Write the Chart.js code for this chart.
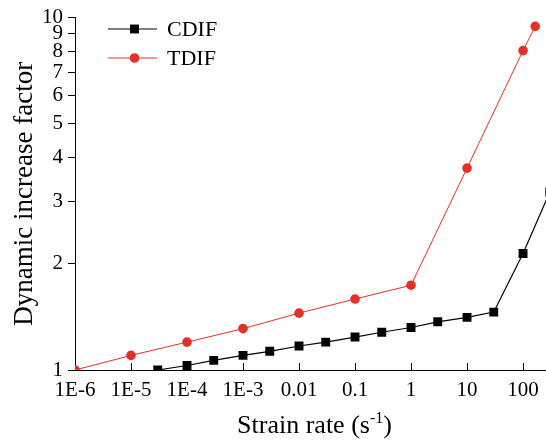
<!DOCTYPE html>
<html>
<head>
<meta charset="utf-8">
<script src="https://cdn.jsdelivr.net/npm/chart.js@4/dist/chart.umd.min.js"></script>
<style>
  html, body { margin: 0; padding: 0; background: #fff; }
  canvas { display: block; }
</style>
</head>
<body>
<canvas id="c" width="546" height="442"></canvas>
<script>
// Strain rates (s^-1) and dynamic increase factors
const cdifRates = [3e-5, 1e-4, 3e-4, 1e-3, 3e-3, 0.01, 0.03, 0.1, 0.3, 1, 3, 10, 30, 100, 300];
const cdifValues = [1.0, 1.03, 1.065, 1.10, 1.13, 1.17, 1.20, 1.24, 1.28, 1.32, 1.37, 1.41, 1.46, 2.14, 3.2];

const tdifRates = [1e-6, 1e-5, 1e-4, 1e-3, 0.01, 0.1, 1, 10, 100, 165];
const tdifValues = [1.0, 1.10, 1.20, 1.31, 1.45, 1.59, 1.74, 3.74, 8.06, 9.44];

const xTickValues = [1e-6, 1e-5, 1e-4, 1e-3, 0.01, 0.1, 1, 10, 100];
const xTickLabels = ['1E-6', '1E-5', '1E-4', '1E-3', '0.01', '0.1', '1', '10', '100'];
const yTickValues = [1, 2, 3, 4, 5, 6, 7, 8, 9, 10];

const RED = 'rgb(228,48,40)';
const FONT = "'Liberation Serif', 'Times New Roman', serif";

const toPoints = (xs, ys) => xs.map((x, i) => ({ x: x, y: ys[i] }));

// Legend: short line with the series marker, then the label
const legendPlugin = {
  id: 'lineLegend',
  afterDraw(chart) {
    const ctx = chart.ctx;
    const rows = [29, 58];
    ctx.save();
    chart.data.datasets.forEach((ds, i) => {
      const y = rows[i];
      ctx.strokeStyle = ds.borderColor;
      ctx.lineWidth = ds.borderWidth;
      ctx.beginPath();
      ctx.moveTo(108, y);
      ctx.lineTo(157, y);
      ctx.stroke();
      ctx.fillStyle = ds.pointBackgroundColor;
      ctx.strokeStyle = ds.pointBorderColor;
      Chart.helpers.drawPoint(ctx, {
        pointStyle: ds.pointStyle, radius: ds.pointRadius, borderWidth: 0, rotation: 0
      }, 134.5, y);
      ctx.fillStyle = '#000';
      ctx.font = '22px ' + FONT;
      ctx.textBaseline = 'middle';
      ctx.textAlign = 'left';
      ctx.fillText(ds.label, 167, y + 1);
    });
    ctx.restore();
  }
};

// X axis title with a superscript exponent
const xTitlePlugin = {
  id: 'xTitle',
  afterDraw(chart) {
    const ctx = chart.ctx;
    const area = chart.chartArea;
    const main = 'Strain rate (s';
    const sup = '-1';
    const close = ')';
    ctx.save();
    ctx.fillStyle = '#000';
    ctx.textBaseline = 'alphabetic';
    ctx.textAlign = 'left';
    ctx.font = '26px ' + FONT;
    const wMain = ctx.measureText(main).width;
    const wClose = ctx.measureText(close).width;
    ctx.font = '16px ' + FONT;
    const wSup = ctx.measureText(sup).width;
    const total = wMain + wSup + wClose;
    let x = (area.left + area.right) / 2 + 4 - total / 2;
    const base = 433;
    ctx.font = '26px ' + FONT;
    ctx.fillText(main, x, base);
    x += wMain;
    ctx.font = '16px ' + FONT;
    ctx.fillText(sup, x, base - 10);
    x += wSup;
    ctx.font = '26px ' + FONT;
    ctx.fillText(close, x, base);
    ctx.restore();
  }
};

new Chart(document.getElementById('c'), {
  type: 'line',
  data: {
    datasets: [
      {
        label: 'CDIF',
        data: toPoints(cdifRates, cdifValues),
        borderColor: '#000',
        borderWidth: 1.2,
        pointStyle: 'rect',
        pointRadius: 6.3,
        pointBackgroundColor: '#000',
        pointBorderColor: '#000',
        pointBorderWidth: 0,
        tension: 0
      },
      {
        label: 'TDIF',
        data: toPoints(tdifRates, tdifValues),
        borderColor: RED,
        borderWidth: 1,
        pointStyle: 'circle',
        pointRadius: 4.8,
        pointBackgroundColor: RED,
        pointBorderColor: RED,
        pointBorderWidth: 0,
        tension: 0
      }
    ]
  },
  options: {
    responsive: false,
    animation: false,
    events: [],
    layout: { autoPadding: false, padding: { top: 15, right: 0, left: 0, bottom: 0 } },
    plugins: {
      legend: { display: false },
      tooltip: { enabled: false }
    },
    scales: {
      x: {
        type: 'logarithmic',
        min: 1e-6,
        max: 257,
        afterBuildTicks(scale) {
          scale.ticks = xTickValues.map(v => ({ value: v }));
        },
        afterFit(scale) {
          scale.height = 72;
          scale.paddingLeft = 0;
          scale.paddingRight = 0;
        },
        border: { display: true, color: '#000', width: 1 },
        grid: { drawOnChartArea: false, drawTicks: true, tickLength: -7, color: '#000', lineWidth: 1 },
        ticks: {
          autoSkip: false,
          maxRotation: 0,
          padding: 15,
          color: '#000',
          font: { family: FONT, size: 21 },
          callback(value, index) { return xTickLabels[index]; }
        }
      },
      y: {
        type: 'logarithmic',
        min: 1,
        max: 10,
        afterBuildTicks(scale) {
          scale.ticks = yTickValues.map(v => ({ value: v }));
        },
        afterFit(scale) { scale.width = 75; },
        border: { display: true, color: '#000', width: 1 },
        grid: { drawOnChartArea: false, drawTicks: true, tickLength: 7, color: '#000', lineWidth: 1 },
        ticks: {
          autoSkip: false,
          padding: 5,
          color: '#000',
          font: { family: FONT, size: 21 },
          callback(value) { return String(value); }
        },
        title: {
          display: true,
          text: 'Dynamic increase factor',
          color: '#000',
          font: { family: FONT, size: 27 },
          padding: { top: 9, bottom: 0 }
        }
      }
    }
  },
  plugins: [legendPlugin, xTitlePlugin]
});
</script>
</body>
</html>
